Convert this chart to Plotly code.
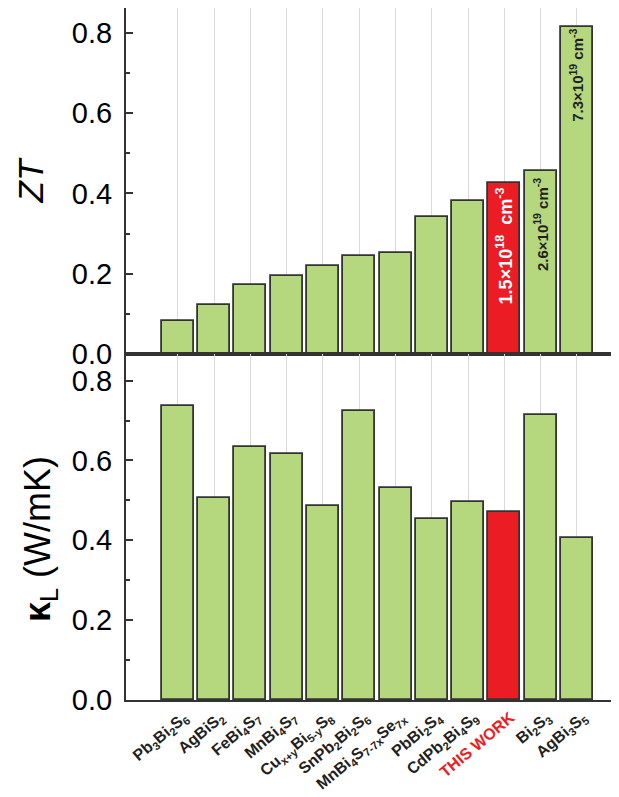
import plotly.graph_objects as go

materials = [
    "Pb<sub>3</sub>Bi<sub>2</sub>S<sub>6</sub>",
    "AgBiS<sub>2</sub>",
    "FeBi<sub>4</sub>S<sub>7</sub>",
    "MnBi<sub>4</sub>S<sub>7</sub>",
    "Cu<sub>x+y</sub>Bi<sub>5-y</sub>S<sub>8</sub>",
    "SnPb<sub>2</sub>Bi<sub>2</sub>S<sub>6</sub>",
    "MnBi<sub>4</sub>S<sub>7-7x</sub>Se<sub>7x</sub>",
    "PbBi<sub>2</sub>S<sub>4</sub>",
    "CdPb<sub>2</sub>Bi<sub>4</sub>S<sub>9</sub>",
    "THIS WORK",
    "Bi<sub>2</sub>S<sub>3</sub>",
    "AgBi<sub>3</sub>S<sub>5</sub>",
]
zt_values = [0.082, 0.121, 0.172, 0.194, 0.220, 0.243, 0.251, 0.341, 0.381, 0.426, 0.455, 0.815]
kappa_values = [0.736, 0.507, 0.635, 0.615, 0.485, 0.724, 0.532, 0.454, 0.497, 0.471, 0.714, 0.405]
this_work_index = 9
carrier_labels = {
    9: "1.5×10<sup>18</sup>  cm<sup>-3</sup>",
    10: "2.6×10<sup>19</sup> cm<sup>-3</sup>",
    11: "7.3×10<sup>19</sup> cm<sup>-3</sup>",
}
label_shift = {9: -63, 10: -53, 11: -48}
y_ticks = [0.0, 0.2, 0.4, 0.6, 0.8]

GREEN = "#b5d77e"
RED = "#ec1c24"
EDGE = "#333333"
TXT = "#231f20"
FONT = "Arial"

xs = list(range(len(materials)))
colors = [RED if i == this_work_index else GREEN for i in xs]
ticktext = [
    f"<span style='color:{RED}'>{m}</span>" if i == this_work_index else m
    for i, m in enumerate(materials)
]

fig = go.Figure()
fig.add_trace(go.Bar(x=xs, y=zt_values, marker=dict(color=colors, line=dict(color=EDGE, width=1.8)),
                     width=0.88, xaxis="x", yaxis="y", hoverinfo="skip"))
fig.add_trace(go.Bar(x=xs, y=kappa_values, marker=dict(color=colors, line=dict(color=EDGE, width=1.8)),
                     width=0.88, xaxis="x2", yaxis="y2", hoverinfo="skip"))

for i, txt in carrier_labels.items():
    big = i == this_work_index
    fig.add_annotation(
        x=xs[i], y=zt_values[i], xref="x", yref="y",
        text=f"<b>{txt}</b>", textangle=-90, showarrow=False,
        yanchor="middle", xanchor="center", yshift=label_shift[i],
        font=dict(family=FONT, size=18 if big else 15, color="white" if big else TXT),
    )

# y-axis title of the lower panel
fig.add_annotation(
    x=0, y=0.5, xref="paper", yref="y2 domain",
    text="<b>κ</b><sub>L</sub> (W/mK)", textangle=-90, showarrow=False,
    xanchor="center", yanchor="middle", xshift=-86, yshift=-12,
    font=dict(family=FONT, size=36, color="black"),
)

xrange = [-1.43, 12.38]
common_x = dict(range=xrange, showgrid=True, gridcolor="#d9d9d9", gridwidth=1.3,
                tickvals=xs, showline=True, linecolor=EDGE, linewidth=2, mirror=True,
                zeroline=False, ticks="", automargin=False)
common_y = dict(tickvals=y_ticks, tickformat=".1f", showgrid=False, zeroline=False,
                showline=True, linecolor=EDGE, linewidth=2, ticks="inside", ticklen=7,
                tickwidth=1.5, tickcolor=EDGE, automargin=False, ticklabelstandoff=6,
                minor=dict(dtick=0.1, ticks="inside", ticklen=4, tickwidth=1.5, tickcolor=EDGE),
                tickfont=dict(family=FONT, size=29, color="black"))

fig.update_layout(
    width=619, height=797,
    margin=dict(l=118, r=0, t=0, b=105),
    paper_bgcolor="white", plot_bgcolor="white",
    showlegend=False, bargap=0,
    xaxis=dict(**common_x, domain=[0, 1], anchor="y", showticklabels=False),
    xaxis2=dict(**common_x, domain=[0, 1], anchor="y2", showticklabels=True,
                ticktext=ticktext, tickangle=-40, ticklabelshift=6,
                tickfont=dict(family=FONT, size=16, color=TXT, weight="bold")),
    yaxis=dict(**common_y, domain=[0.5, 1], range=[0, 0.862], anchor="x",
               title=dict(text="<i>ZT</i>", font=dict(family=FONT, size=35, color="black"), standoff=18)),
    yaxis2=dict(**common_y, domain=[0, 0.5], range=[0, 0.8667], anchor="x2"),
)

fig.write_html("out.html")
